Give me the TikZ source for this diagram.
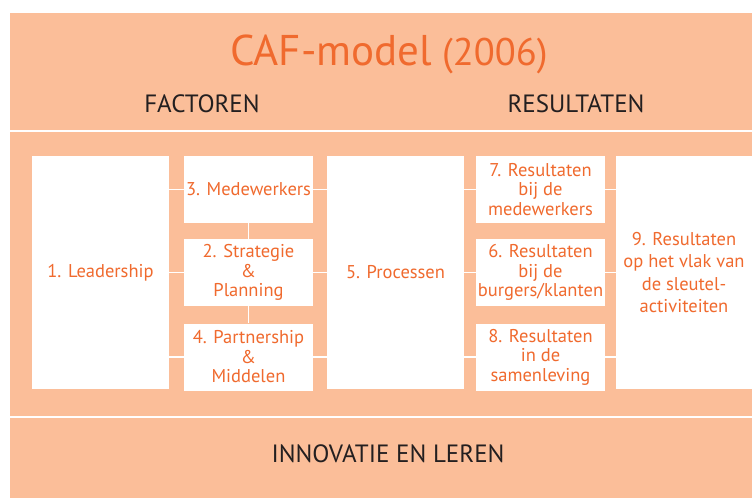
\documentclass[tikz,border=0pt]{standalone}
\usepackage{fontspec}
\setmainfont{PT Sans}
\definecolor{peach}{HTML}{FBBE99}
\definecolor{cafOrange}{HTML}{F06A2E}
\definecolor{darkText}{HTML}{231F20}

\begin{document}
\begin{tikzpicture}[
  x = 1pt,
  y = -1pt,
  criterion/.style = {fill = white, inner sep = 0pt, align = center,
    text = cafOrange, font = \fontsize{18.5}{19.5}\selectfont},
  widebox/.style = {criterion, minimum width = 137pt, minimum height = 233pt},
  smallbox/.style = {criterion, minimum width = 129pt, minimum height = 67pt},
  link/.style = {draw = white, line width = 1.5pt},
  heading/.style = {anchor = base, text = darkText, font = \fontsize{25}{28}\selectfont},
  ]

  \useasboundingbox (0, 0) rectangle (752, 498);
  \fill [white] (0, 0) rectangle (752, 498);
  \fill [peach] (10, 13) rectangle (752, 498);

  \draw [link] (10, 131) -- (752, 131);
  \draw [link] (10, 417) -- (752, 417);

  \node at (389, 65)
  [anchor = base, text = cafOrange, name = Title]
  {{\fontsize{43}{48}\selectfont CAF-model}\hspace{10pt}{\fontsize{38.5}{42}\selectfont (2006)}};

  \node at (202, 112)
  [heading, name = Factoren] {FACTOREN};

  \node at (576, 112)
  [heading, name = Resultaten] {RESULTATEN};

  \node at (388, 462)
  [heading, name = Innovatie] {INNOVATIE EN LEREN};

  \node at (100.5, 272.5)
  [widebox, name = Leadership] {1. Leadership};

  \node at (248.5, 189.5)
  [smallbox, name = Medewerkers] {3. Medewerkers};

  \node at (248.5, 272.5)
  [smallbox, name = Strategie] {2. Strategie\\ \&\\ Planning};

  \node at (248.5, 357)
  [smallbox, name = Partnership] {4. Partnership\\ \&\\ Middelen};

  \node at (395.5, 272.5)
  [widebox, name = Processen] {5. Processen};

  \node at (540.5, 189.5)
  [smallbox, name = ResMedewerkers] {7. Resultaten\\ bij de\\ medewerkers};

  \node at (540.5, 272.5)
  [smallbox, name = ResBurgers] {6. Resultaten\\ bij de\\ burgers/klanten};

  \node at (540.5, 357)
  [smallbox, name = ResSamenleving] {8. Resultaten\\ in de\\ samenleving};

  \node at (684, 272.5)
  [widebox, minimum width = 136pt, font = \fontsize{18.5}{22.5}\selectfont,
   name = ResSleutel] {9. Resultaten\\ op het vlak van\\ de sleutel-\\ activiteiten};

  \draw [link] (Leadership.east |- Medewerkers) to (Medewerkers.west);

  \draw [link] (Leadership.east |- Strategie) to (Strategie.west);

  \draw [link] (Leadership.east |- Partnership) to (Partnership.west);

  \draw [link] (Medewerkers.east) to (Processen.west |- Medewerkers);

  \draw [link] (Strategie.east) to (Processen.west |- Strategie);

  \draw [link] (Partnership.east) to (Processen.west |- Partnership);

  \draw [link] (Medewerkers) to (Strategie);

  \draw [link] (Strategie) to (Partnership);

  \draw [link] (Processen.east |- ResMedewerkers) to (ResMedewerkers.west);

  \draw [link] (Processen.east |- ResBurgers) to (ResBurgers.west);

  \draw [link] (Processen.east |- ResSamenleving) to (ResSamenleving.west);

  \draw [link] (ResMedewerkers.east) to (ResSleutel.west |- ResMedewerkers);

  \draw [link] (ResBurgers.east) to (ResSleutel.west |- ResBurgers);

  \draw [link] (ResSamenleving.east) to (ResSleutel.west |- ResSamenleving);

\end{tikzpicture}
\end{document}
